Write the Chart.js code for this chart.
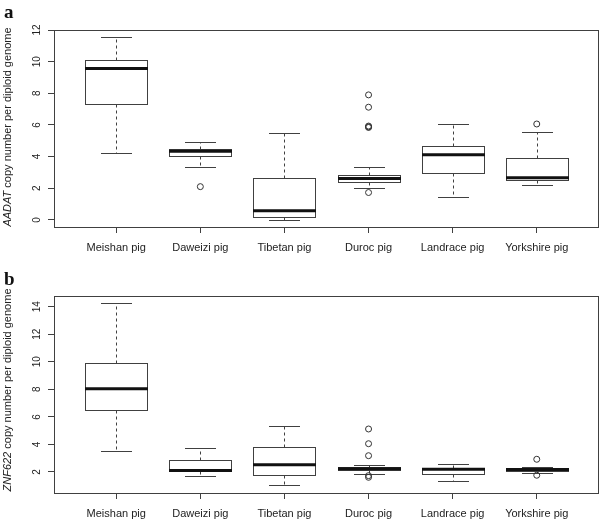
<!DOCTYPE html>
<html>
<head>
<meta charset="utf-8">
<script src="https://cdn.jsdelivr.net/npm/chart.js@4.4.0/dist/chart.umd.min.js"></script>
<style>
  body { margin: 0; background: #fff; }
  #wrap { position: relative; width: 600px; height: 520px; }
  canvas { position: absolute; left: 0; }
  #panelA { top: 0; }
  #panelB { top: 260px; }
</style>
</head>
<body>
<div id="wrap">
  <canvas id="panelA" width="600" height="260"></canvas>
  <canvas id="panelB" width="600" height="260"></canvas>
</div>
<script>
// --- categories (x axis) ---
const categories = ['Meishan pig', 'Daweizi pig', 'Tibetan pig', 'Duroc pig', 'Landrace pig', 'Yorkshire pig'];

// --- panel a: AADAT ---
const aLow  = [4.21, 3.37, 0.00, 2.00, 1.45, 2.21];
const aQ1   = [7.35, 4.02, 0.19, 2.42, 2.97, 2.55];
const aMed  = [9.56, 4.34, 0.57, 2.61, 4.11, 2.67];
const aQ3   = [10.10, 4.46, 2.65, 2.82, 4.70, 3.90];
const aHigh = [11.54, 4.95, 5.52, 3.37, 6.04, 5.58];
const aOutliers = [[], [2.10], [], [7.90, 7.12, 5.93, 5.88, 5.84, 1.73], [], [6.06]];
const aTicks = [0, 2, 4, 6, 8, 10, 12];

// --- panel b: ZNF622 ---
const bLow  = [3.52, 1.73, 1.03, 1.85, 1.33, 1.93];
const bQ1   = [6.48, 2.05, 1.76, 2.15, 1.88, 2.07];
const bMed  = [8.05, 2.10, 2.53, 2.24, 2.19, 2.17];
const bQ3   = [9.89, 2.85, 3.79, 2.34, 2.31, 2.27];
const bHigh = [14.24, 3.74, 5.32, 2.49, 2.56, 2.39];
const bOutliers = [[], [], [], [5.12, 4.05, 3.18, 1.73, 1.61], [], [2.92, 1.76]];
const bTicks = [2, 4, 6, 8, 10, 12, 14];

const SANS = '"Liberation Sans", Arial, sans-serif';
const BOX_WIDTH = 0.75;     // in category units
const LINE = '#404040';

// draws the boxes, whiskers and medians through the chart scales
const boxplotPlugin = {
    id: 'boxplot',
    beforeDatasetsDraw(chart, args, opts) {
        const xs = chart.scales.x, ys = chart.scales.y;
        const ctx = chart.ctx;
        const half = (xs.getPixelForValue(1 + BOX_WIDTH / 2) - xs.getPixelForValue(1));
        ctx.save();
        opts.med.forEach((m, i) => {
            const cx = Math.round(xs.getPixelForValue(i + 1)) + 0.5;
            const yHigh = Math.round(ys.getPixelForValue(opts.high[i])) + 0.5;
            const yQ3 = Math.round(ys.getPixelForValue(opts.q3[i])) + 0.5;
            const yQ1 = Math.round(ys.getPixelForValue(opts.q1[i])) + 0.5;
            const yLow = Math.round(ys.getPixelForValue(opts.low[i])) + 0.5;
            const yMed = ys.getPixelForValue(m);

            ctx.strokeStyle = LINE;
            ctx.lineWidth = 1;

            // dashed whiskers
            ctx.setLineDash([3, 3]);
            ctx.beginPath();
            ctx.moveTo(cx, yQ3); ctx.lineTo(cx, yHigh);
            ctx.moveTo(cx, yQ1); ctx.lineTo(cx, yLow);
            ctx.stroke();
            ctx.setLineDash([]);

            // staples
            ctx.beginPath();
            ctx.moveTo(Math.round(cx - half / 2), yHigh); ctx.lineTo(Math.round(cx + half / 2), yHigh);
            ctx.moveTo(Math.round(cx - half / 2), yLow); ctx.lineTo(Math.round(cx + half / 2), yLow);
            ctx.stroke();

            // box
            const left = Math.round(cx - half) + 0.5;
            const right = Math.round(cx + half) - 0.5;
            ctx.strokeRect(left, yQ3, right - left, yQ1 - yQ3);

            // median
            ctx.strokeStyle = '#111';
            ctx.lineWidth = 3;
            ctx.beginPath();
            ctx.moveTo(left - 0.5, yMed); ctx.lineTo(right + 0.5, yMed);
            ctx.stroke();
        });
        ctx.restore();
    },
    afterDraw(chart, args, opts) {
        const ctx = chart.ctx;
        const area = chart.chartArea;
        const ys = chart.scales.y;
        ctx.save();

        // frame
        ctx.strokeStyle = LINE;
        ctx.lineWidth = 1;
        ctx.strokeRect(Math.round(area.left) + 0.5, Math.round(area.top) + 0.5,
            Math.round(area.right - area.left) - 1, Math.round(area.bottom - area.top));

        // rotated y tick labels
        ctx.fillStyle = '#222';
        ctx.font = '10px ' + SANS;
        ctx.textAlign = 'center';
        ctx.textBaseline = 'middle';
        ys.ticks.forEach(t => {
            ctx.save();
            ctx.translate(37, ys.getPixelForValue(t.value));
            ctx.rotate(-Math.PI / 2);
            ctx.fillText(String(t.value), 0, 0);
            ctx.restore();
        });

        // y title, gene name in italics
        const italicFont = 'italic 11px ' + SANS;
        const plainFont = '11px ' + SANS;
        const rest = ' copy number per diploid genome';
        ctx.font = italicFont;
        const w1 = ctx.measureText(opts.gene).width;
        ctx.font = plainFont;
        const w2 = ctx.measureText(rest).width;
        ctx.save();
        ctx.translate(8, opts.titleY);
        ctx.rotate(-Math.PI / 2);
        ctx.textAlign = 'left';
        ctx.font = italicFont;
        ctx.fillText(opts.gene, -(w1 + w2) / 2, 0);
        ctx.font = plainFont;
        ctx.fillText(rest, -(w1 + w2) / 2 + w1, 0);
        ctx.restore();

        // panel letter
        ctx.font = 'bold 19px "Liberation Serif", "Times New Roman", serif';
        ctx.textAlign = 'left';
        ctx.textBaseline = 'alphabetic';
        ctx.fillStyle = '#111';
        ctx.fillText(opts.letter, 4, opts.letterY);
        ctx.restore();
    }
};

function makePanel(canvasId, stats, outliers, ticks, yMin, yMax, layoutTop, xHeight) {
    const points = [];
    outliers.forEach((list, i) => list.forEach(v => points.push({ x: i + 1, y: v })));

    return new Chart(document.getElementById(canvasId).getContext('2d'), {
        type: 'scatter',
        data: {
            datasets: [{
                data: points,
                pointStyle: 'circle',
                pointRadius: 3,
                borderColor: '#333',
                backgroundColor: 'rgba(0,0,0,0)',
                borderWidth: 1
            }]
        },
        options: {
            responsive: false,
            animation: false,
            events: [],
            layout: { autoPadding: false, padding: { top: layoutTop, right: 1, bottom: 0, left: 0 } },
            plugins: {
                legend: { display: false },
                tooltip: { enabled: false },
                boxplot: stats
            },
            scales: {
                x: {
                    type: 'linear',
                    min: 0.26,
                    max: 6.74,
                    afterBuildTicks: scale => { scale.ticks = categories.map((c, i) => ({ value: i + 1 })); },
                    afterFit: scale => {
                        scale.height = xHeight;
                        scale.paddingLeft = 0;
                        scale.paddingRight = 0;
                    },
                    grid: { drawOnChartArea: false, drawTicks: true, tickLength: 6, color: LINE },
                    border: { display: false },
                    ticks: {
                        autoSkip: false,
                        maxRotation: 0,
                        padding: 8,
                        color: '#222',
                        font: { family: SANS, size: 11 },
                        callback: value => categories[value - 1]
                    }
                },
                y: {
                    min: yMin,
                    max: yMax,
                    afterBuildTicks: scale => { scale.ticks = ticks.map(v => ({ value: v })); },
                    afterFit: scale => {
                        scale.width = 54;
                        scale.paddingTop = 0;
                        scale.paddingBottom = 0;
                    },
                    grid: { drawOnChartArea: false, drawTicks: true, tickLength: 6, color: LINE },
                    border: { display: false },
                    ticks: { color: 'rgba(0,0,0,0)', font: { family: SANS, size: 10 }, padding: 4 }
                }
            }
        },
        plugins: [boxplotPlugin]
    });
}

makePanel('panelA',
    { low: aLow, q1: aQ1, med: aMed, q3: aQ3, high: aHigh, gene: 'AADAT', titleY: 127, letter: 'a', letterY: 18 },
    aOutliers, aTicks, -0.45, 12.0, 30, 33);

makePanel('panelB',
    { low: bLow, q1: bQ1, med: bMed, q3: bQ3, high: bHigh, gene: 'ZNF622', titleY: 130, letter: 'b', letterY: 25 },
    bOutliers, bTicks, 0.47, 14.78, 36, 27);
</script>
</body>
</html>
